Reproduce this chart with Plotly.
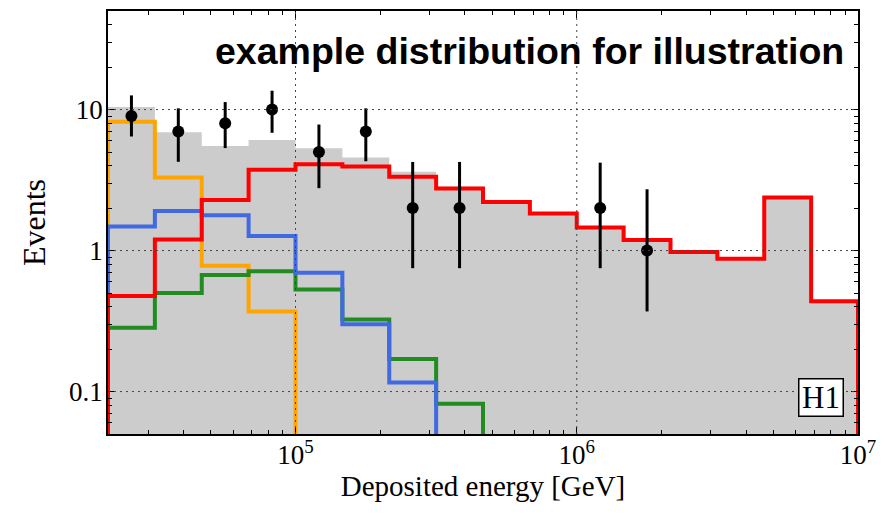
import numpy as np
import plotly.graph_objects as go

# ---- data ----
edge_exp = [13/3 + k/6 for k in range(17)]          # log10 of bin edges
orange_vals = [8.2, 3.3, 0.78, 0.37, 0, 0, 0, 0, 0, 0, 0, 0, 0, 0, 0, 0]
blue_vals   = [1.48, 1.91, 1.78, 1.27, 0.695, 0.30, 0.116, 0, 0, 0, 0, 0, 0, 0, 0, 0]
green_vals  = [0.283, 0.50, 0.67, 0.713, 0.53, 0.324, 0.17, 0.082, 0, 0, 0, 0, 0, 0, 0, 0]
red_vals    = [0.477, 1.2, 2.28, 3.74, 4.09, 3.94, 3.34, 2.75, 2.21, 1.83, 1.46, 1.19,
               0.977, 0.873, 2.38, 0.437]
data_bins   = [0, 1, 2, 3, 4, 5, 6, 7, 10, 11]
data_counts = [9, 7, 8, 10, 5, 7, 2, 2, 2, 1]
data_err_lo = [2.56, 2.74, 2.67, 3.16, 2.23, 2.7, 1.25, 1.25, 1.25, 0.63]
data_err_hi = [3.6, 3.2, 3.3, 3.6, 2.83, 3.2, 2.25, 2.25, 2.2, 1.72]

x_major = [1e5, 1e6, 1e7]
x_major_text = ["10<sup>5</sup>", "10<sup>6</sup>", "10<sup>7</sup>"]
x_minor = [m * 10**d for d in (4, 5, 6) for m in range(2, 10) if m * 10**d > 2.2e4]
y_major = [0.1, 1, 10]
y_major_text = ["0.1", "1", "10"]
y_minor = [m * 10**d for d in (-2, -1, 0, 1) for m in range(2, 10) if 0.05 < m * 10**d < 50]

Y_RANGE = [np.log10(0.05), np.log10(50)]
FLOOR = 1e-4
edges = [10**e for e in edge_exp]


def step_xy(vals):
    v = [x if x > 0 else FLOOR for x in vals]
    xs = [edges[0]] + edges[:-1] + [edges[-1], edges[-1]]
    ys = [FLOOR] + v + [v[-1], FLOOR]
    return xs, ys


fig = go.Figure()

total = [o + b + g + r for o, b, g, r in zip(orange_vals, blue_vals, green_vals, red_vals)]
tx, ty = step_xy(total)
fig.add_trace(go.Scatter(x=tx, y=ty, mode="lines", line=dict(shape="hv", width=0, color="#cccccc"),
                         fill="toself", fillcolor="#cccccc", hoverinfo="skip", showlegend=False))

for vals, col in [(orange_vals, "#ffa500"), (green_vals, "#228b22"),
                  (blue_vals, "#4169e1"), (red_vals, "#ff0000")]:
    sx, sy = step_xy(vals)
    fig.add_trace(go.Scatter(x=sx, y=sy, mode="lines",
                             line=dict(shape="hv", width=4, color=col), showlegend=False))

centers = [10**((edge_exp[i] + edge_exp[i + 1]) / 2) for i in data_bins]
fig.add_trace(go.Scatter(
    x=centers, y=data_counts, mode="markers",
    marker=dict(color="black", size=12),
    error_y=dict(type="data", array=data_err_hi, arrayminus=data_err_lo,
                 thickness=3, width=0, color="black"),
    showlegend=False))

# dotted grid drawn above the histograms
grid_line = dict(color="#444444", width=1, dash="2px,4px")
for xv in x_major[:-1]:
    fig.add_shape(type="line", xref="x", yref="paper", x0=xv, x1=xv,
                  y0=0, y1=1, line=grid_line, layer="above")
for yv in y_major:
    fig.add_shape(type="line", xref="paper", yref="y", x0=0, x1=1, y0=yv,
                  y1=yv, line=grid_line, layer="above")

serif = "Liberation Serif"
axis_common = dict(showline=True, linecolor="black", linewidth=1.5, mirror="allticks",
                   ticks="inside", ticklen=7, tickwidth=1, tickcolor="black",
                   showgrid=False, zeroline=False, layer="above traces",
                   tickfont=dict(family=serif, size=27, color="black"))

fig.update_xaxes(type="log", range=[edge_exp[0], edge_exp[-1]],
                 tickmode="array", tickvals=x_major, ticktext=x_major_text,
                 minor=dict(ticks="inside", ticklen=4, tickwidth=1, tickcolor="black",
                            tickmode="array", tickvals=x_minor, showgrid=False),
                 title=dict(text="Deposited energy [GeV]", font=dict(family=serif, size=29, color="black"),
                            standoff=0),
                 ticklabelstandoff=-4,
                 **axis_common)
fig.update_yaxes(type="log", range=Y_RANGE,
                 tickmode="array", tickvals=y_major, ticktext=y_major_text,
                 minor=dict(ticks="inside", ticklen=4, tickwidth=1, tickcolor="black",
                            tickmode="array", tickvals=y_minor, showgrid=False),
                 title=dict(text="Events", font=dict(family=serif, size=32, color="black"),
                            standoff=14),
                 ticklabelstandoff=-2,
                 **axis_common)

fig.add_annotation(text="<b>example distribution for illustration</b>", xref="paper", yref="paper",
                   x=0.984, y=0.905, xanchor="right", yanchor="middle", showarrow=False,
                   font=dict(family="Liberation Sans", size=37.5, color="black"))
fig.add_annotation(text="H1", xref="paper", yref="paper", x=0.951, y=0.087,
                   xanchor="center", yanchor="middle", showarrow=False,
                   font=dict(family=serif, size=31, color="black"),
                   bgcolor="white", bordercolor="black", borderwidth=1.5, borderpad=1,
                   width=41, height=34)

fig.update_layout(width=885, height=515, margin=dict(l=108, r=23, t=9, b=81),
                  plot_bgcolor="white", paper_bgcolor="white")

fig.write_html("out.html")
